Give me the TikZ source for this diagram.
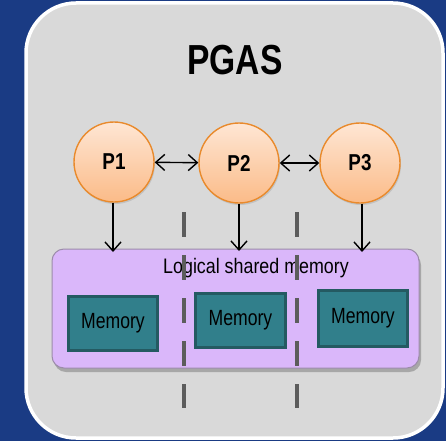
\documentclass[tikz,border=0pt]{standalone}
\usepackage{fontspec}
\setmainfont{Liberation Sans}
\usepackage{graphicx}
\usetikzlibrary{arrows.meta,shadows}
\definecolor{bgblue}{HTML}{1A3B84}
\definecolor{panel}{HTML}{D9D9D9}
\definecolor{lav}{HTML}{DAB7FA}
\definecolor{lavedge}{HTML}{9C8CAA}
\definecolor{teal1}{HTML}{317F8B}
\definecolor{teal2}{HTML}{245A62}
\definecolor{orlight}{HTML}{FEE6D4}
\definecolor{ordark}{HTML}{FBBB88}
\definecolor{oredge}{HTML}{E98A2C}
\definecolor{dashgray}{HTML}{5C5C5C}
\tikzset{
  proc/.style={circle, minimum size=80pt, inner sep=0pt, draw=oredge, line width=1.4pt,
    top color=orlight, bottom color=ordark,
    drop shadow={shadow xshift=1pt, shadow yshift=-2pt, opacity=0.2, fill=black!60},
    font=\fontsize{23}{26}\selectfont\bfseries},
  membox/.style={rectangle, draw=teal2, line width=3pt, fill=teal1, inner sep=0pt,
    font=\fontsize{22}{24}\selectfont},
  conn/.style={line width=1.4pt, -{Straight Barb[length=9pt,width=16pt,line width=1.4pt]}},
  biconn/.style={line width=1.4pt, {Straight Barb[length=9pt,width=16pt,line width=1.4pt]}-{Straight Barb[length=9pt,width=16pt,line width=1.4pt]}},
  divider/.style={dashgray, line width=4pt, dash pattern=on 25pt off 18pt}
}
\begin{document}
\begin{tikzpicture}[x=1pt,y=-1pt]
\useasboundingbox (0,0) rectangle (446,441);
\fill[bgblue] (0,0) rectangle (446,441);
\draw[draw=white, line width=3.5pt, fill=panel, rounded corners=50pt] (26,3) rectangle (443,438);
\node (title) at (235,60) {\fontsize{42}{46}\selectfont\bfseries\scalebox{0.8}[1]{PGAS}};
% logical shared memory box
\node[draw=lavedge, line width=1pt, fill=lav, rounded corners=12pt, minimum width=367pt, minimum height=119pt,
  drop shadow={shadow xshift=2pt, shadow yshift=-4pt, opacity=0.35, fill=black!70}] (lsm) at (235.5,308.5) {};
\node (lsmlabel) at (256,268) {\fontsize{21}{23}\selectfont\scalebox{0.85}[1]{Logical shared memory}};
\node[membox, minimum width=89pt, minimum height=54pt] (m1) at (113,323.5) {\scalebox{0.8}[1]{Memory}};
\node[membox, minimum width=90pt, minimum height=54pt] (m2) at (240.5,320.5) {\scalebox{0.8}[1]{Memory}};
\node[membox, minimum width=89pt, minimum height=56pt] (m3) at (363,318.5) {\scalebox{0.8}[1]{Memory}};
% processes
\node[proc] (p1) at (114,162) {\scalebox{0.82}[1]{P1}};
\node[proc] (p2) at (239,163) {\scalebox{0.82}[1]{P2}};
\node[proc] (p3) at (360,163) {\scalebox{0.82}[1]{P3}};
\draw[biconn] (p1) -- (p2);
\draw[biconn] (p2) -- (p3);
\coordinate (a1) at (113,252);
\coordinate (a2) at (239,251);
\coordinate (a3) at (362,252);
\draw[conn] (p1.south -| a1) -- (a1);
\draw[conn] (p2.south -| a2) -- (a2);
\draw[conn] (p3.south -| a3) -- (a3);
% dividers
\coordinate (d1t) at (184,212);
\coordinate (d1b) at (184,408);
\coordinate (d2t) at (297,212);
\coordinate (d2b) at (297,408);
\draw[divider] (d1t) -- (d1b);
\draw[divider] (d2t) -- (d2b);
\end{tikzpicture}
\end{document}
